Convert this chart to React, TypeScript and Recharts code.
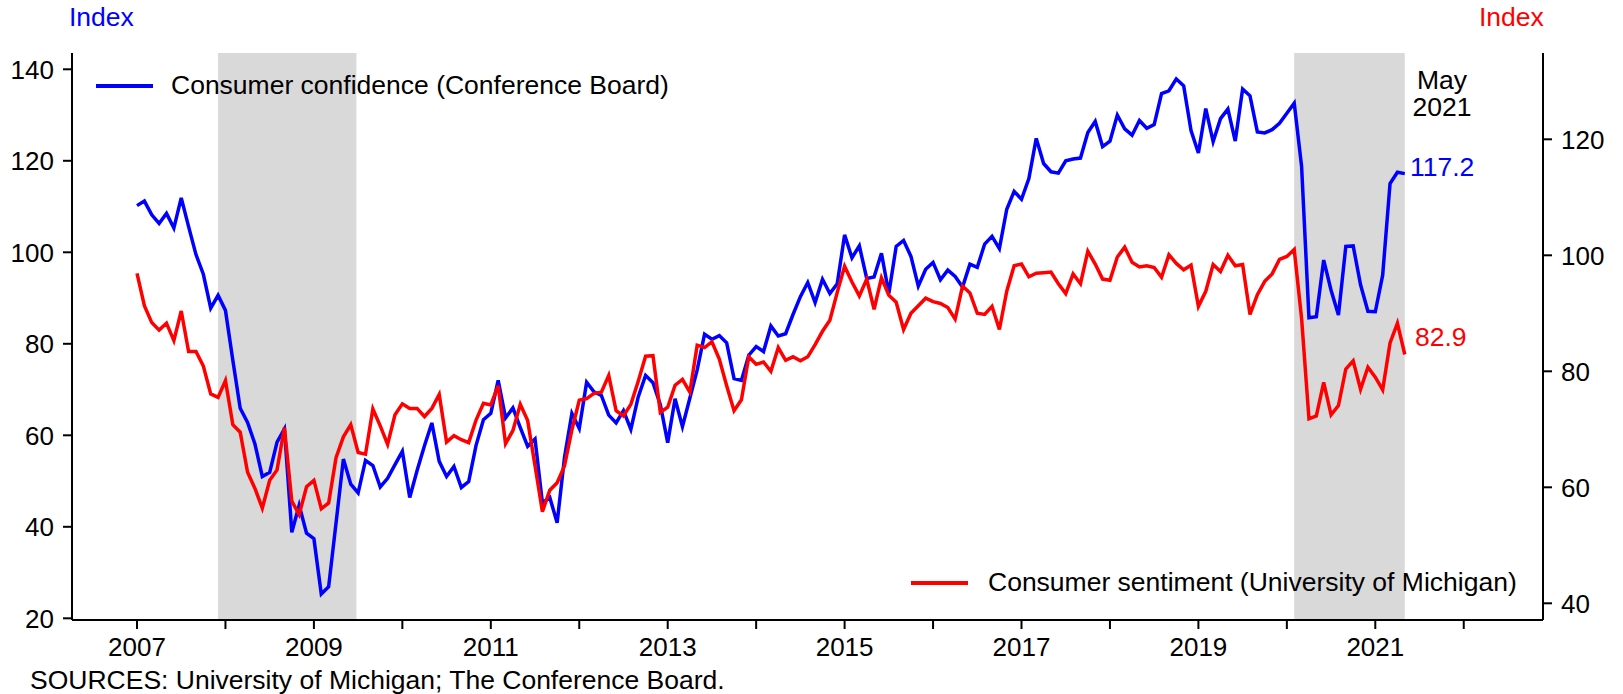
import { LineChart, Line, XAxis, YAxis, ReferenceArea } from "recharts"

const FONT = "'Liberation Sans', Arial, Helvetica, sans-serif"
const BLUE = "#0000ff"
const RED = "#ff0000"

const START_YEAR = 2007

// Conference Board consumer confidence, monthly Jan 2007 - May 2021
const confidence = [
  110.2, 111.2, 108.2, 106.3, 108.5, 105.3, 111.9, 105.6, 99.5, 95.2, 87.8, 90.6,
  87.3, 76.4, 65.9, 62.8, 58.1, 51.0, 51.9, 58.5, 61.4, 38.8, 44.7, 38.6,
  37.4, 25.3, 26.9, 40.8, 54.8, 49.3, 47.4, 54.5, 53.4, 48.7, 50.6, 53.6,
  56.5, 46.4, 52.3, 57.7, 62.7, 54.3, 51.0, 53.2, 48.6, 49.9, 57.8, 63.4,
  64.8, 72.0, 63.8, 66.0, 61.7, 57.6, 59.2, 45.2, 46.4, 40.9, 55.2, 64.8,
  61.5, 71.6, 69.5, 68.7, 64.4, 62.7, 65.4, 61.3, 68.4, 73.1, 71.5, 66.7,
  58.4, 68.0, 61.9, 68.1, 74.3, 82.1, 81.0, 81.8, 80.2, 72.4, 72.0, 77.5,
  79.4, 78.3, 83.9, 81.7, 82.2, 86.4, 90.3, 93.4, 89.0, 94.1, 91.0, 93.1,
  103.8, 98.8, 101.4, 94.3, 94.6, 99.8, 91.0, 101.3, 102.6, 99.1, 92.6, 96.3,
  97.8, 94.0, 96.1, 94.7, 92.4, 97.4, 96.7, 101.8, 103.5, 100.8, 109.4, 113.3,
  111.6, 116.1, 124.9, 119.4, 117.6, 117.3, 120.0, 120.4, 120.6, 126.2, 128.6, 123.1,
  124.3, 130.0, 127.0, 125.6, 128.8, 127.1, 127.9, 134.7, 135.3, 137.9, 136.4, 126.6,
  121.7, 131.4, 124.2, 129.2, 131.3, 124.3, 135.7, 134.2, 126.3, 126.1, 126.8, 128.2,
  130.4, 132.6, 118.8, 85.7, 85.9, 98.3, 91.7, 86.3, 101.3, 101.4, 92.9, 87.1,
  87.0, 95.0, 115.0, 117.5, 117.2,
]

// University of Michigan consumer sentiment, same months
const sentiment = [
  96.9, 91.3, 88.4, 87.1, 88.3, 85.3, 90.4, 83.4, 83.4, 80.9, 76.1, 75.5,
  78.4, 70.8, 69.5, 62.6, 59.8, 56.4, 61.2, 63.0, 70.3, 57.6, 55.3, 60.1,
  61.2, 56.3, 57.3, 65.1, 68.7, 70.8, 66.0, 65.7, 73.5, 70.6, 67.4, 72.5,
  74.4, 73.6, 73.6, 72.2, 73.6, 76.0, 67.8, 68.9, 68.2, 67.7, 71.6, 74.5,
  74.2, 77.5, 67.5, 69.8, 74.3, 71.5, 63.7, 55.8, 59.5, 60.8, 63.7, 69.9,
  75.0, 75.3, 76.2, 76.4, 79.3, 73.2, 72.3, 74.3, 78.3, 82.6, 82.7, 72.9,
  73.8, 77.6, 78.6, 76.4, 84.5, 84.1, 85.1, 82.1, 77.5, 73.2, 75.1, 82.5,
  81.2, 81.6, 80.0, 84.1, 81.9, 82.5, 81.8, 82.5, 84.6, 86.9, 88.8, 93.6,
  98.1, 95.4, 93.0, 95.9, 90.7, 96.1, 93.1, 91.9, 87.2, 90.0, 91.3, 92.6,
  92.0, 91.7, 91.0, 89.0, 94.7, 93.5, 90.0, 89.8, 91.2, 87.2, 93.8, 98.2,
  98.5, 96.3, 96.9, 97.0, 97.1, 95.1, 93.4, 96.8, 95.1, 100.7, 98.5, 95.9,
  95.7, 99.7, 101.4, 98.8, 98.0, 98.2, 97.9, 96.2, 100.1, 98.6, 97.5, 98.3,
  91.2, 93.8, 98.4, 97.2, 100.0, 98.2, 98.4, 89.8, 93.2, 95.5, 96.8, 99.3,
  99.8, 101.0, 89.1, 71.8, 72.3, 78.1, 72.5, 74.1, 80.4, 81.8, 76.9, 80.7,
  79.0, 76.8, 84.9, 88.3, 82.9,
]

const yearTicks = [2007, 2008, 2009, 2010, 2011, 2012, 2013, 2014, 2015, 2016, 2017, 2018, 2019, 2020, 2021, 2022]
const leftTicks = [20, 40, 60, 80, 100, 120, 140]
const rightTicks = [40, 60, 80, 100, 120]

// shaded periods, in fractional years
const recessions = [
  [2007.917, 2009.48],
  [2020.083, 2021.333],
]

const data = confidence.map((v, i) => ({
  t: START_YEAR + i / 12,
  confidence: v,
  sentiment: sentiment[i],
}))

const tickStyle = { fontSize: 26, fill: "#000", fontFamily: FONT }
const axisLine = { stroke: "#000", strokeWidth: 2 }
const tickLine = { stroke: "#000", strokeWidth: 2 }

const txt = (extra: any) => ({
  position: "absolute" as const,
  fontFamily: FONT,
  fontSize: 26.5,
  lineHeight: "26px",
  whiteSpace: "nowrap" as const,
  ...extra,
})

export default function App() {
  return (
    <div style={{ position: "absolute", left: 0, top: 0, width: 1623, height: 694, background: "#fff" }}>
      <LineChart
        width={1623}
        height={694}
        data={data}
        margin={{ top: 53, right: 20, bottom: 44, left: 12 }}
      >
        <XAxis
          dataKey="t"
          type="number"
          domain={[2006.265, 2022.896]}
          allowDataOverflow
          ticks={yearTicks}
          interval={0}
          tickFormatter={(v: number) => (v % 2 === 1 ? String(v) : "")}
          tick={tickStyle}
          tickSize={9}
          tickMargin={9}
          axisLine={axisLine}
          tickLine={tickLine}
          height={30}
        />
        <YAxis
          yAxisId="left"
          orientation="left"
          domain={[19.63, 143.56]}
          allowDataOverflow
          ticks={leftTicks}
          interval={0}
          tick={tickStyle}
          tickSize={9}
          tickMargin={9}
          axisLine={axisLine}
          tickLine={tickLine}
          width={60}
        />
        <YAxis
          yAxisId="right"
          orientation="right"
          domain={[37.12, 134.88]}
          allowDataOverflow
          ticks={rightTicks}
          interval={0}
          tick={tickStyle}
          tickSize={9}
          tickMargin={9}
          axisLine={axisLine}
          tickLine={tickLine}
          width={60}
        />
        {recessions.map(([a, b], i) => (
          <ReferenceArea
            key={`rec-${i}`}
            yAxisId="left"
            x1={a}
            x2={b}
            fill="#d9d9d9"
            fillOpacity={1}
            stroke="none"
          />
        ))}
        <Line
          yAxisId="left"
          dataKey="confidence"
          stroke={BLUE}
          strokeWidth={3.5}
          dot={false}
          type="linear"
          isAnimationActive={false}
        />
        <Line
          yAxisId="right"
          dataKey="sentiment"
          stroke={RED}
          strokeWidth={3.5}
          dot={false}
          type="linear"
          isAnimationActive={false}
        />
      </LineChart>

      <div style={txt({ left: 69, top: 4, color: BLUE })}>Index</div>
      <div style={txt({ left: 1479, top: 4, color: RED })}>Index</div>

      <div style={{ position: "absolute", left: 96, top: 84, width: 57, height: 3.5, background: BLUE }} />
      <div style={txt({ left: 171, top: 72, color: "#000" })}>Consumer confidence (Conference Board)</div>

      <div style={{ position: "absolute", left: 911, top: 581, width: 57, height: 3.5, background: RED }} />
      <div style={txt({ left: 988, top: 569, color: "#000" })}>Consumer sentiment (University of Michigan)</div>

      <div style={txt({ left: 1392, top: 67, width: 100, textAlign: "center", color: "#000" })}>May</div>
      <div style={txt({ left: 1392, top: 94, width: 100, textAlign: "center", color: "#000" })}>2021</div>
      <div style={txt({ left: 1410, top: 154, color: BLUE })}>117.2</div>
      <div style={txt({ left: 1415, top: 324, color: RED })}>82.9</div>

      <div style={txt({ left: 30, top: 667, color: "#000" })}>
        SOURCES: University of Michigan; The Conference Board.
      </div>
    </div>
  )
}
